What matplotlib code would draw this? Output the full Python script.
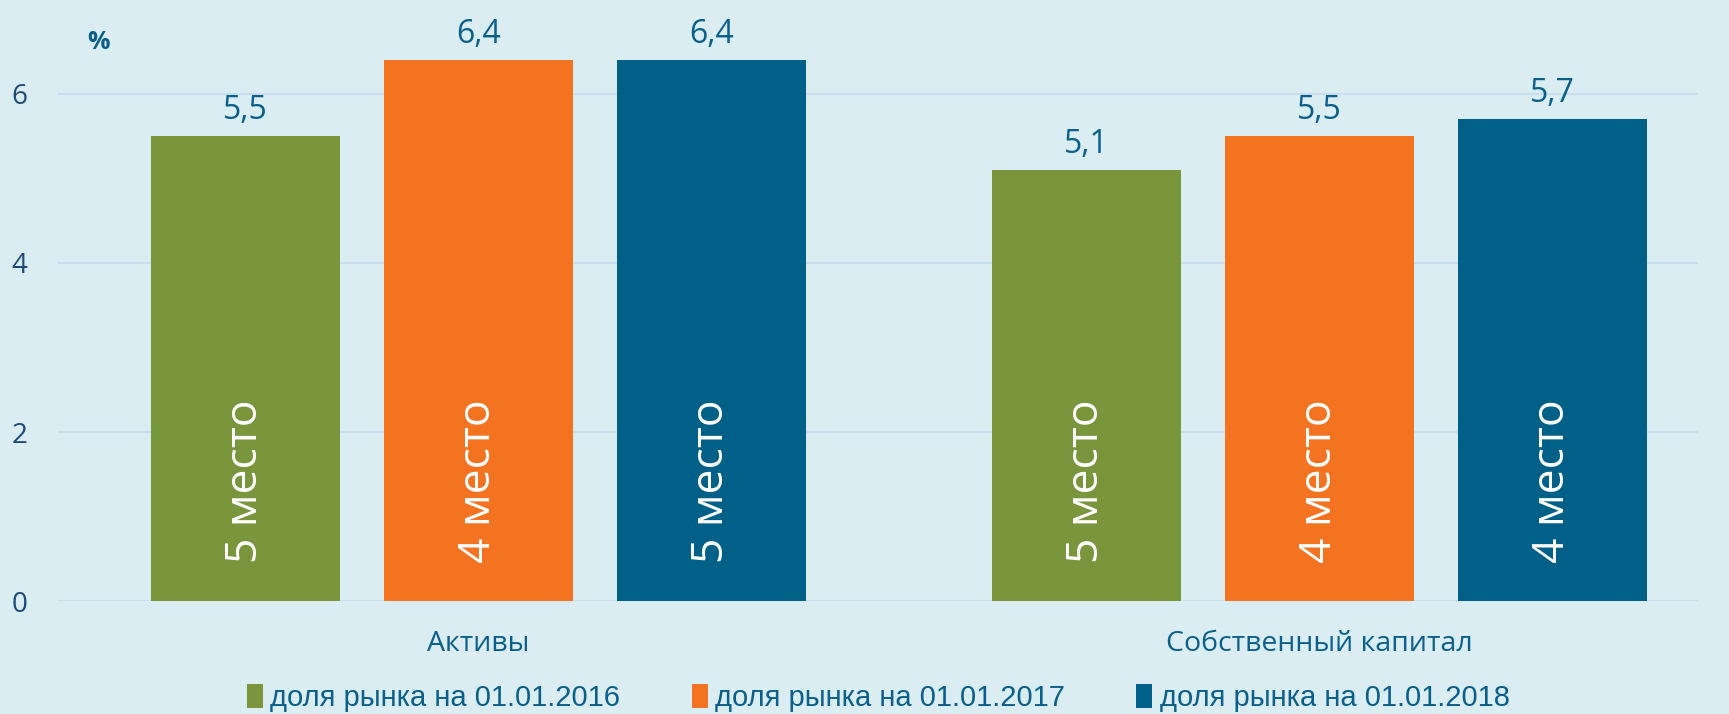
import numpy as np
import matplotlib.pyplot as plt
import matplotlib.patheffects as pe

categories = ['Активы', 'Собственный капитал']
series_names = ['доля рынка на 01.01.2016', 'доля рынка на 01.01.2017', 'доля рынка на 01.01.2018']
values = [[5.5, 5.1], [6.4, 5.5], [6.4, 5.7]]
places = [['5 место', '5 место'], ['4 место', '4 место'], ['5 место', '4 место']]
colors = ['#7A963C', '#F47321', '#006088']

bg = '#DAEDF3'
txt = '#0B5F8A'
plt.rcParams['font.family'] = ['Open Sans', 'DejaVu Sans']

fig = plt.figure(figsize=(17.29, 7.14), dpi=100, facecolor=bg)
ax = fig.add_axes([0.0335, 0.158, 0.9485, 0.829])
ax.set_facecolor(bg)

x = np.arange(len(categories))
width = 0.224
step = 0.277
shadow = [pe.SimplePatchShadow(offset=(0, -2), shadow_rgbFace='#8a9aa0', alpha=0.5), pe.Normal()]
for i in range(len(series_names)):
	xs = x + (i - 1) * step
	bars = ax.bar(xs, values[i], width, color=colors[i], label=series_names[i], zorder=3)
	for b in bars:
		b.set_path_effects(shadow)
	for j in range(len(categories)):
		ax.text(xs[j], values[i][j] + 0.11, ('%.1f' % values[i][j]).replace('.', ','),
			ha='center', va='bottom', fontsize=23, color=txt, zorder=4)
		ax.text(xs[j], 0.45, places[i][j], rotation=90, ha='center', va='bottom',
			fontsize=32, color='white', zorder=4)

ax.set_xlim(-0.5, 1.45)
ax.set_ylim(0, 7)
ax.set_yticks([0, 2, 4, 6])
ax.yaxis.grid(True, color='#C8DEF0', linewidth=1.5, zorder=0)
ax.set_axisbelow(True)
for s in ax.spines.values():
	s.set_visible(False)
ax.tick_params(axis='y', length=0, pad=22, labelsize=20, labelcolor='#1F4A78')
ax.tick_params(axis='x', length=0, pad=21, labelsize=20.5, labelcolor=txt)
ax.set_xticks(x)
ax.set_xticklabels(categories)

fig.text(0.057, 0.94, '%', fontsize=18, fontweight='bold', color=txt, ha='center', va='center')

leg = fig.legend(loc='center', bbox_to_anchor=(0.508, 0.022), ncol=3, frameon=False,
	handlelength=0.55, handleheight=0.9, handletextpad=0.25, columnspacing=2.45,
	prop={'family': ['Liberation Sans', 'DejaVu Sans'], 'size': 21})
for t in leg.get_texts():
	t.set_color(txt)
for h in leg.legend_handles:
	h.set_path_effects([])

fig.savefig('out.png', dpi=100, facecolor=bg)
